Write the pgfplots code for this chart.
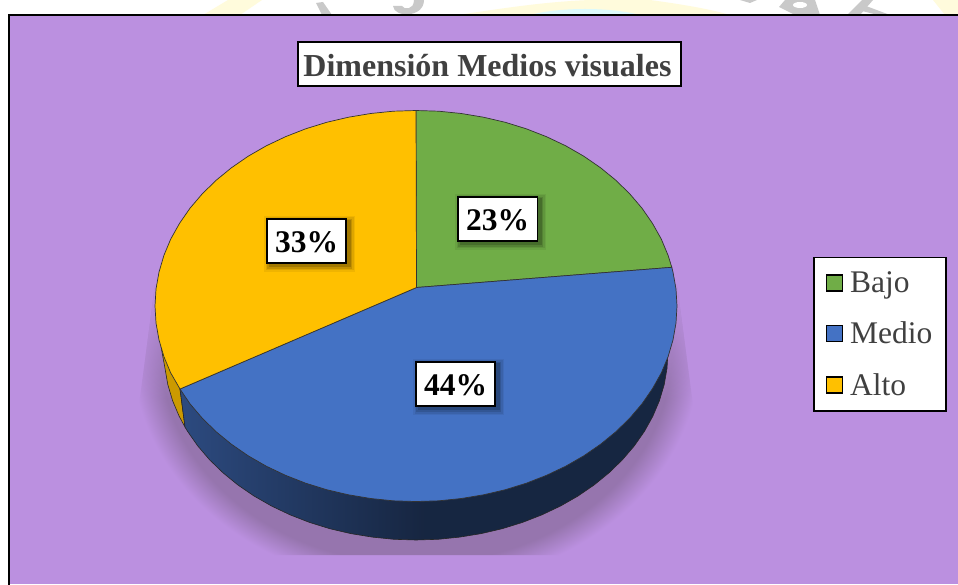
\documentclass[border=0pt]{standalone}
\usepackage{pgfplots}
\pgfplotsset{compat=1.18}
\usepackage{fontspec}
\setmainfont{Liberation Serif}
\usetikzlibrary{fadings}
\definecolor{bgp}{HTML}{BB90E0}
\definecolor{cgreen}{HTML}{70AD47}
\definecolor{cblue}{HTML}{4472C4}
\definecolor{cyellow}{HTML}{FFC000}
\definecolor{ctext}{HTML}{404040}
\definecolor{shad}{HTML}{9675AE}
\definecolor{paley}{HTML}{FFFBDC}
\definecolor{palec}{HTML}{DDFAFC}
\definecolor{wgray}{HTML}{C9C9C9}
\pgfdeclareradialshading{pieshadow}{\pgfpoint{0bp}{0bp}}{color(0bp)=(shad); color(22.5bp)=(shad); color(25bp)=(bgp); color(50bp)=(bgp)}
\newcommand{\datalab}[3]{%
  \foreach \e/\o in {5/.06,3.5/.08,2/.12,0.5/.16}{%
    \fill[black,opacity=\o] ({#1-40.5+3-\e},{584-#2+23-3+\e}) rectangle ({#1+40.5+3+\e},{584-#2-23-3-\e});}
  \node[draw=black,fill=white,line width=1.6pt,minimum width=79.5pt,minimum height=44.5pt,inner sep=0pt] at (#1,584-#2) {};
  \node[inner sep=0pt,font=\fontsize{31.5}{31.5}\selectfont\bfseries,text=black] at (#1,584-#2-1) {#3};}
\begin{document}
\begin{tikzpicture}[x=1pt,y=1pt]
\clip (0,0) rectangle (958,584);
\fill[white] (0,0) rectangle (958,584);
% faint remains of the page behind the chart
\fill[paley] (203,569) -- (228,584) -- (262,584) -- (240,569) -- cycle;
\fill[paley] (457,569) .. controls (500,575) and (540,582) .. (590,584) -- (650,584) .. controls (680,580) and (710,575) .. (730,569) -- cycle;
\fill[palec] (530,569) .. controls (560,577) and (610,577) .. (640,569) -- cycle;
\fill[paley] (933,584) -- (958,584) -- (958,569) -- (945,569) -- cycle;
\fill[wgray] (316,581) -- (323,582) -- (332,569) -- (322,569) -- cycle;
\fill[wgray] (393,578) .. controls (394,566) and (424,566) .. (424,584) -- (414,584) .. controls (414,574) and (404,574) .. (402,578) -- cycle;
\fill[wgray] (740,584) -- (757,584) -- (750,581) -- cycle;
\fill[wgray] (785,584) -- (815,584) -- (820,569) -- (795,569) -- (779,577) -- cycle;
\fill[white] (800,579) ellipse (7 and 3);
\fill[wgray] (847,569) -- (860,569) -- (873,584) -- (862,584) -- cycle;
\fill[wgray] (866,578) -- (890,569) -- (878,569) -- (862,573) -- cycle;
% chart area
\fill[bgp] (9,0) rectangle (958,568.5);
\draw[black,line width=2pt] (9,-2) -- (9,568.5) -- (960,568.5);
% shadow of the pie
\begin{scope}
\clip (155,299) -- (137,164) -- (137,29) -- (695,29) -- (695,164) -- (677,299) -- cycle;
\shade[shading=pieshadow] (132,-3) rectangle (700,467);
\fill[bgp,path fading=south] (120,184) rectangle (710,310);
\end{scope}
\begin{axis}[
  at={(0,0)},anchor=south west,
  scale only axis,width=958pt,height=584pt,
  xmin=0,xmax=958,ymin=0,ymax=584,y dir=reverse,
  enlargelimits=false,clip=false,
  axis lines=none,
  area legend,
  legend image code/.code={\draw[#1,draw=black,line width=1.5pt] (0pt,-8pt) rectangle (16pt,8pt);},
  legend cell align=left,
  legend style={at={(812.7/958,{1-256.7/584})},anchor=north west,draw=black,line width=1.8pt,fill=white,
    font=\fontsize{31.5}{31.5}\selectfont,text=ctext,
    inner xsep=12pt,inner ysep=14pt,
    row sep=28pt,
    nodes={inner xsep=2pt,inner ysep=0pt},
    /tikz/every odd column/.append style={column sep=5pt},
  },
]
% side of the pie (behind the top face)
\addplot[forget plot,draw=black!85,line width=.6pt,left color=cyellow!80!black,right color=cyellow!80!black] coordinates {
 (180,389) (185,427) (179.2,416.3) (172.6,400.7) (167.8,384.6) (165,368.4) (162,352) (160.5,343) (200,350) (180,389)};
\addplot[forget plot,draw=black!85,line width=.6pt,left color=cblue!65!black,right color=cblue!33!black,middle color=cblue!33!black] coordinates {
 (668,340) (668,352) (667,368.4) (664.2,384.6) (659.4,400.7) (652.8,416.3) (644.4,431.4) (634.2,446) (622.4,459.8)
 (609,472.8) (594.2,484.9) (578,496) (560.5,506) (542,514.8) (522.5,522.4) (502.2,528.7) (481.2,533.6) (459.7,537.1)
 (438,539.3) (416,540) (394,539.3) (372.3,537.1) (350.8,533.6) (329.8,528.7) (309.5,522.4) (290,514.8) (271.5,506)
 (254,496) (237.8,484.9) (223,472.8) (209.6,459.8) (197.8,446) (187.6,431.4) (185,427) (180,389) (416,300) (668,340)};
% top face: Bajo, Medio, Alto
\addplot[draw=black!80,line width=.7pt,fill=cgreen] coordinates {
 (416.5,287.5) (416,110.5) (438.8,111.2) (461.3,113.5) (483.5,117.2) (505.3,122.3) (526.3,128.8) (546.5,136.7)
 (565.7,145.8) (583.8,156.2) (600.6,167.8) (615.9,180.3) (629.8,193.9) (642,208.2) (652.5,223.4) (661.3,239.1)
 (668.1,255.4) (671.8,267.3) (416.5,287.5)};
\addplot[draw=black!80,line width=.7pt,fill=cblue] coordinates {
 (416.5,287.5) (671.8,267.3) (673,272.1) (676,289) (677,306) (676,323) (673,339.9) (668.1,356.6) (661.3,372.9)
 (652.5,388.6) (642,403.8) (629.8,418.1) (615.9,431.7) (600.6,444.2) (583.8,455.8) (565.7,466.2) (546.5,475.3)
 (526.3,483.2) (505.3,489.7) (483.5,494.8) (461.3,498.5) (438.8,500.8) (416,501.5) (393.2,500.8) (370.7,498.5)
 (348.5,494.8) (326.7,489.7) (305.7,483.2) (285.5,475.3) (266.3,466.2) (248.2,455.8) (231.4,444.2) (216.1,431.7)
 (202.2,418.1) (190,403.8) (180,389) (416.5,287.5)};
\addplot[draw=black!80,line width=.7pt,fill=cyellow] coordinates {
 (416.5,287.5) (180,389) (170.7,372.9) (163.9,356.6) (159,339.9) (156,323) (155,306) (156,289) (159,272.1) (163.9,255.4)
 (170.7,239.1) (179.5,223.4) (190,208.2) (202.2,193.9) (216.1,180.3) (231.4,167.8) (248.2,156.2) (266.3,145.8)
 (285.5,136.7) (305.7,128.8) (326.7,122.3) (348.5,117.2) (370.7,113.5) (393.2,111.2) (416,110.5) (416.5,287.5)};
\legend{Bajo,Medio,Alto}
\end{axis}
% title and data labels
\node[draw=black,fill=white,line width=1.8pt,minimum width=383pt,minimum height=44pt,inner sep=0pt] at (489.3,584-64.3) {};
\node[inner sep=0pt,font=\fontsize{32}{32}\selectfont\bfseries,text=ctext] at (487.5,584-65.5) {Dimensión Medios visuales};
\datalab{497.7}{219}{23\%}
\datalab{306.5}{241}{33\%}
\datalab{455.5}{384}{44\%}
\end{tikzpicture}
\end{document}
